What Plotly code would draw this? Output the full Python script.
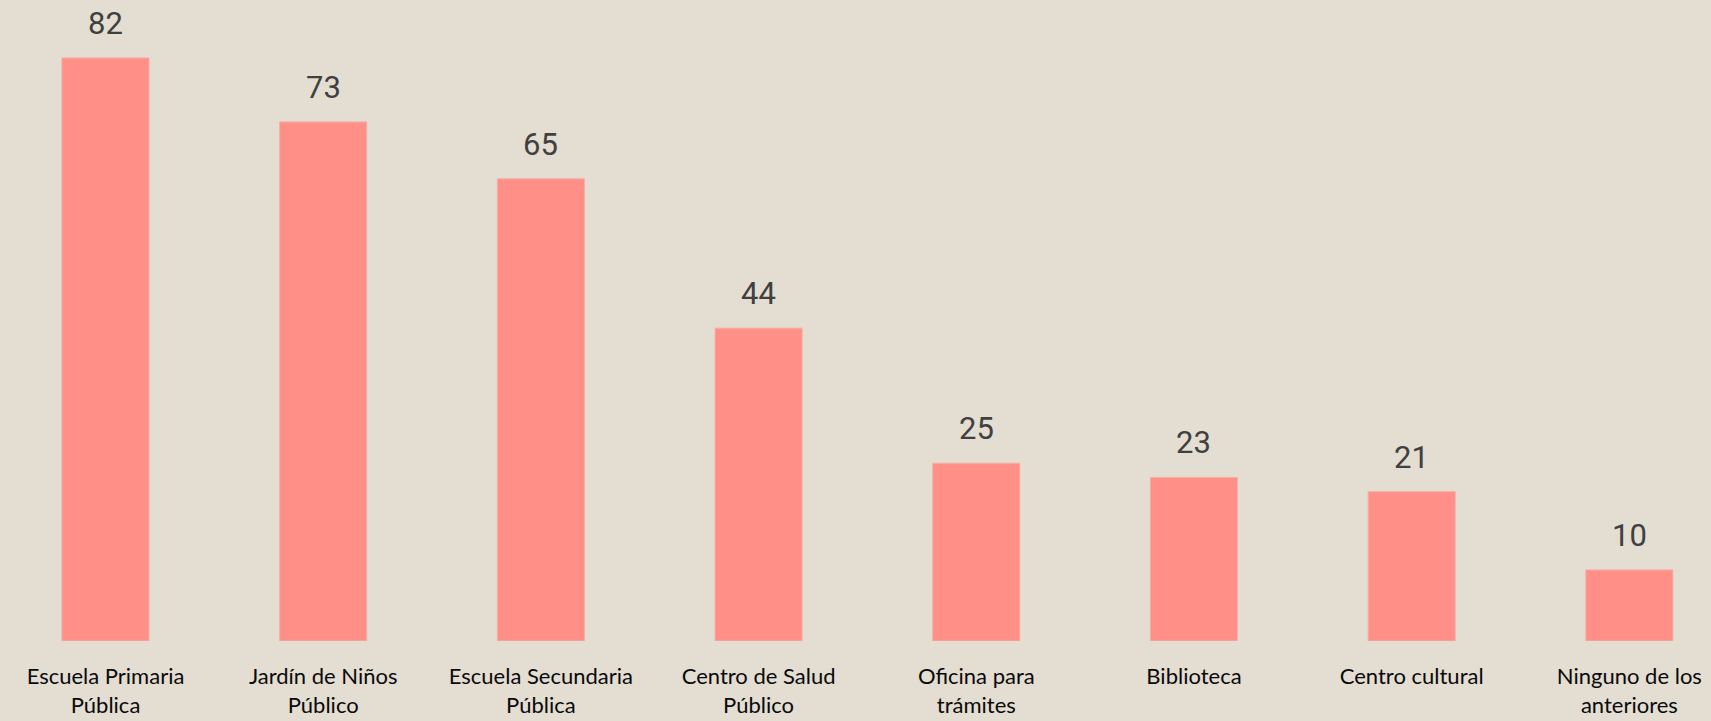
import plotly.graph_objects as go

categorias = [
    "Escuela Primaria<br>Pública",
    "Jardín de Niños<br>Público",
    "Escuela Secundaria<br>Pública",
    "Centro de Salud<br>Público",
    "Oficina para<br>trámites",
    "Biblioteca",
    "Centro cultural",
    "Ninguno de los<br>anteriores",
]
valores = [82, 73, 65, 44, 25, 23, 21, 10]

FONDO = "#E3DDD2"
BARRA = "#FF8F87"

x = list(range(len(categorias)))

fig = go.Figure(go.Bar(
    x=x, y=valores, width=0.4,
    marker=dict(color=BARRA, line=dict(color="#F4AFA6", width=1)),
    hoverinfo="skip",
))

for xi, v in zip(x, valores):
    fig.add_annotation(
        x=xi, y=v, text=str(v), showarrow=False,
        yanchor="bottom", yshift=14,
        font=dict(family="Roboto", size=31, color="#404040"),
    )

fig.update_layout(
    width=1711, height=721,
    paper_bgcolor=FONDO, plot_bgcolor=FONDO,
    margin=dict(l=0, r=0, t=0, b=80),
    showlegend=False,
    xaxis=dict(
        tickmode="array", tickvals=x, ticktext=categorias,
        range=[-0.4846, 7.375], tickangle=0,
        showgrid=False, zeroline=False, showline=False,
        ticks="outside", ticklen=16, tickcolor="rgba(0,0,0,0)",
        tickfont=dict(family="Lato", size=22, color="#0A0A0A"),
    ),
    yaxis=dict(range=[0, 90.15], visible=False),
)

# sin el margen por defecto del navegador ni la barra de herramientas
fig.write_html(
    "out.html",
    config={"displayModeBar": False},
    post_script="document.body.style.margin='0';document.body.style.overflow='hidden';",
)
